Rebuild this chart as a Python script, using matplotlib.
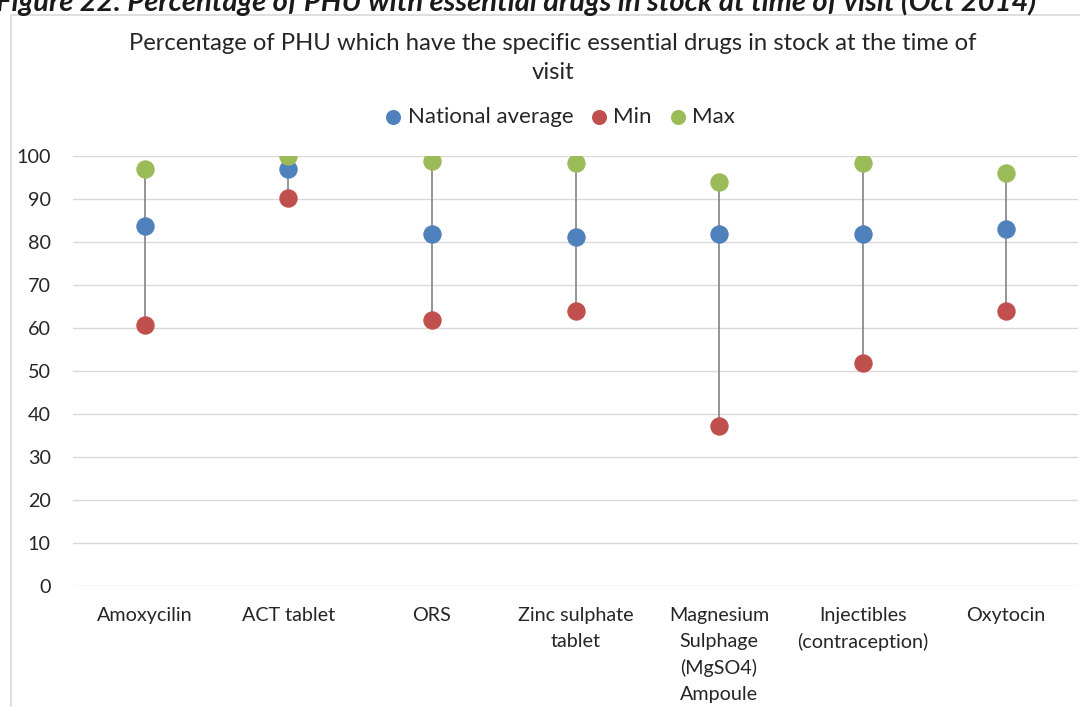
import matplotlib
matplotlib.use("Agg")
import matplotlib.pyplot as plt
from matplotlib.lines import Line2D

plt.rcParams['font.family'] = ['Lato', 'DejaVu Sans']

drugs = ["Amoxycilin", "ACT tablet", "ORS", "Zinc sulphate\ntablet",
         "Magnesium\nSulphage\n(MgSO4)\nAmpoule", "Injectibles\n(contraception)",
         "Oxytocin"]
national_avg = [83.7, 97.0, 81.9, 81.1, 81.9, 81.9, 83.0]
min_vals = [60.7, 90.2, 61.9, 63.9, 37.2, 51.9, 63.9]
max_vals = [96.9, 100.0, 98.9, 98.4, 94.0, 98.4, 96.0]
y_ticks = [0, 10, 20, 30, 40, 50, 60, 70, 80, 90, 100]

W, H = 1080, 707
fig = plt.figure(figsize=(W / 100, H / 100), dpi=100)

# caption above the chart box
fig.text(-4 / W, 1 - 11 / H, "Figure 22: Percentage of PHU with essential drugs in stock at time of visit (Oct 2014)",
         fontsize=21, fontweight='bold', fontstyle='italic', color='#1a1a1a',
         ha='left', va='baseline')

# chart box border
fig.add_artist(Line2D([11 / W, 11 / W], [0, 1 - 14.5 / H], color='#D9D9D9', lw=1.2))
fig.add_artist(Line2D([11 / W, 1], [1 - 14.5 / H, 1 - 14.5 / H], color='#D9D9D9', lw=1.2))

ax = fig.add_axes([73 / W, 121 / H, 1005 / W, 430 / H])
x = list(range(len(drugs)))

ax.vlines(x, min_vals, max_vals, color='#8C8C8C', lw=1.3, zorder=2)
ms = 150
ax.scatter(x, national_avg, s=ms, color='#4F81BD', zorder=3, label='National average')
ax.scatter(x, min_vals, s=ms, color='#C0504D', zorder=3, label='Min')
ax.scatter(x, max_vals, s=ms, color='#9BBB59', zorder=3, label='Max')

ax.set_xlim(-0.5, len(drugs) - 0.5)
ax.set_ylim(0, 100)
ax.set_yticks(y_ticks)
ax.set_xticks(x)
ax.set_xticklabels(drugs, fontsize=14.2, color='#262626', linespacing=1.62)
ax.tick_params(axis='y', labelsize=14.2, labelcolor='#262626', length=0, pad=16)
ax.tick_params(axis='x', length=0, pad=15)
ax.grid(axis='y', color='#D9D9D9', lw=1)
ax.set_axisbelow(True)
for s in ax.spines.values():
    s.set_visible(False)

fig.text(553 / W, 1 - 50 / H,
         "Percentage of PHU which have the specific essential drugs in stock at the time of",
         fontsize=17.2, color='#262626', ha='center', va='baseline')
fig.text(553 / W, 1 - 79 / H, "visit", fontsize=17.2, color='#262626', ha='center', va='baseline')

ax.legend(loc='center', bbox_to_anchor=(553 / W, 1 - 117 / H), bbox_transform=fig.transFigure,
          ncol=3, frameon=False, fontsize=16, markerscale=0.8, handletextpad=-0.35,
          columnspacing=0.15, labelcolor='#262626')

fig.savefig("out.png", dpi=100)
